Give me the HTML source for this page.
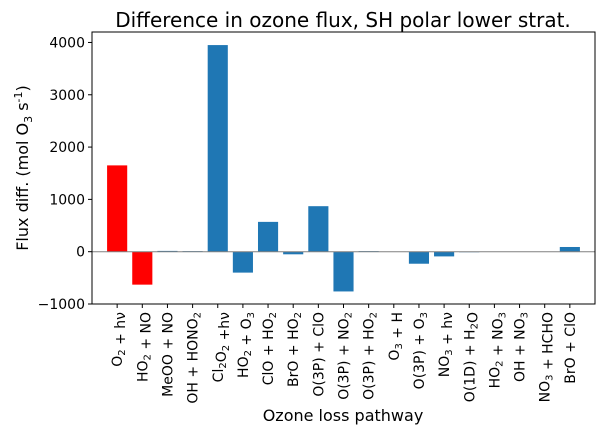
<!DOCTYPE html>
<html><head><meta charset="utf-8"><style>
body{margin:0;background:#fff;}
svg text{font-family:"DejaVu Sans","Liberation Sans",sans-serif;fill:#000;}
</style></head><body>
<svg width="607" height="436">
<text x="343" y="27" font-size="20" text-anchor="middle">Difference in ozone flux, SH polar lower strat.</text>
<g id="bars"></g>
<g id="axes"></g>
<text x="343" y="421" font-size="16" text-anchor="middle">Ozone loss pathway</text>
<text transform="translate(28,168) rotate(-90)" font-size="16" text-anchor="middle">Flux diff. (mol O<tspan font-size="11" dy="4">3</tspan><tspan dy="-4"> s</tspan><tspan font-size="11" dy="-6">-1</tspan><tspan dy="6">)</tspan></text>
</svg>
<script>
const categories=["O<sub>2</sub> + hν","HO<sub>2</sub> + NO","MeOO + NO","OH + HONO<sub>2</sub>","Cl<sub>2</sub>O<sub>2</sub> +hν","HO<sub>2</sub> + O<sub>3</sub>","ClO + HO<sub>2</sub>","BrO + HO<sub>2</sub>","O(3P) + ClO","O(3P) + NO<sub>2</sub>","O(3P) + HO<sub>2</sub>","O<sub>3</sub> + H","O(3P) + O<sub>3</sub>","NO<sub>3</sub> + hν","O(1D) + H<sub>2</sub>O","HO<sub>2</sub> + NO<sub>3</sub>","OH + NO<sub>3</sub>","NO<sub>3</sub> + HCHO","BrO + ClO"];
const values=[1650,-630,15,10,3950,-400,570,-50,870,-760,10,0,-230,-90,-10,0,0,0,90];
const highlighted=[true,true,false,false,false,false,false,false,false,false,false,false,false,false,false,false,false,false,false];
const yTicks=[-1000,0,1000,2000,3000,4000];
const NS="http://www.w3.org/2000/svg";
const L=92,R=595,T=32,B=304,yMin=-1000,yMax=4200;
const n=categories.length;
const bw=(R-L)/(n+1);
function xs(i){return L+(i+1)*bw;}
function ys(v){return B-(v-yMin)/(yMax-yMin)*(B-T);}
function mk(tag,a,p){const e=document.createElementNS(NS,tag);for(const k in a)e.setAttribute(k,a[k]);p.appendChild(e);return e;}
const bars=document.getElementById('bars'),axes=document.getElementById('axes');
values.forEach((v,i)=>{
 const y0=ys(0),y1=ys(v);
 const r=mk('rect',{x:xs(i)-bw*0.4,y:Math.min(y0,y1),width:bw*0.8,height:Math.abs(y1-y0),fill:highlighted[i]?'#ff0000':'#1f77b4'},bars);
 
 
});
mk('line',{x1:L,x2:R,y1:ys(0),y2:ys(0),stroke:'#808080','stroke-width':1},axes);
mk('rect',{x:L,y:T,width:R-L,height:B-T,fill:'none',stroke:'#000','stroke-width':1},axes);
yTicks.forEach(t=>{
 const y=ys(t);
 mk('line',{x1:L-4,x2:L,y1:y,y2:y,stroke:'#000'},axes);
 const tx=mk('text',{x:L-7,y:y+5,'font-size':14,'text-anchor':'end'},axes);
 tx.textContent=t<0?'−'+Math.abs(t):t;
 
 
});
categories.forEach((c,i)=>{
 const x=xs(i);
 mk('line',{x1:x,x2:x,y1:B,y2:B+4,stroke:'#000'},axes);
 const tx=mk('text',{transform:`translate(${x+5},${B+8}) rotate(-90)`,'font-size':14,'text-anchor':'end'},axes);
 tx.innerHTML=c.replace(/<sub>/g,'<tspan font-size="10" dy="3">').replace(/<\/sub>/g,'</tspan><tspan dy="-3"></tspan>');
 
 
});
</script>
</body></html>
